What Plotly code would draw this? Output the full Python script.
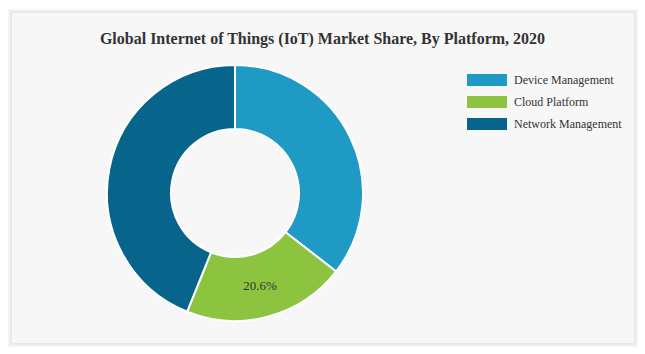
import plotly.graph_objects as go

categories = ["Device Management", "Cloud Platform", "Network Management"]
shares = [35.5, 20.6, 43.9]
colors = ["#1e9ac4", "#8cc43f", "#07648b"]
label_text = ["", "20.6%", ""]

W, H = 645, 354

fig = go.Figure()
fig.add_trace(go.Pie(
    labels=categories,
    values=shares,
    text=label_text,
    textinfo="text",
    textposition="inside",
    insidetextorientation="horizontal",
    textfont=dict(family="Liberation Serif", size=13, color="#333333"),
    hole=0.5,
    sort=False,
    direction="clockwise",
    rotation=0,
    marker=dict(colors=colors, line=dict(color="white", width=2)),
    domain=dict(x=[107 / W, 363 / W], y=[1 - 321 / H, 1 - 65 / H]),
    hoverinfo="label+percent",
    showlegend=False,
))

# card background with soft shadow
fig.add_shape(type="rect", xref="paper", yref="paper",
              x0=8 / W, x1=638 / W, y0=1 - 347 / H, y1=1 - 9 / H,
              fillcolor="#f4f4f4", line=dict(width=0), layer="below")
fig.add_shape(type="rect", xref="paper", yref="paper",
              x0=10 / W, x1=636 / W, y0=1 - 345 / H, y1=1 - 11 / H,
              fillcolor="#e8e8e8", line=dict(width=0), layer="below")
fig.add_shape(type="rect", xref="paper", yref="paper",
              x0=12 / W, x1=634 / W, y0=1 - 343 / H, y1=1 - 13 / H,
              fillcolor="#f7f7f7", line=dict(width=0), layer="below")

# legend drawn from the category / colour lists
row_centers = [80, 102, 124]
for name, col, yc in zip(categories, colors, row_centers):
    fig.add_shape(type="rect", xref="paper", yref="paper",
                  x0=467 / W, x1=507 / W, y0=1 - (yc + 6) / H, y1=1 - (yc - 6) / H,
                  fillcolor=col, line=dict(width=0))
    fig.add_annotation(xref="paper", yref="paper", x=512 / W, y=1 - yc / H,
                       xanchor="left", yanchor="middle", showarrow=False,
                       text=name,
                       font=dict(family="Liberation Serif", size=12, color="#333333"))

fig.update_layout(
    width=W, height=H,
    margin=dict(l=0, r=0, t=0, b=0),
    paper_bgcolor="white",
    plot_bgcolor="white",
    font=dict(family="Liberation Serif", color="#333333"),
    title=dict(
        text="<b>Global Internet of Things (IoT) Market Share, By Platform, 2020</b>",
        x=0.5, xanchor="center", y=1 - 38 / H, yanchor="middle",
        font=dict(family="Liberation Serif", size=16, color="#333333"),
    ),
    showlegend=False,
)

fig.write_html("out.html")
